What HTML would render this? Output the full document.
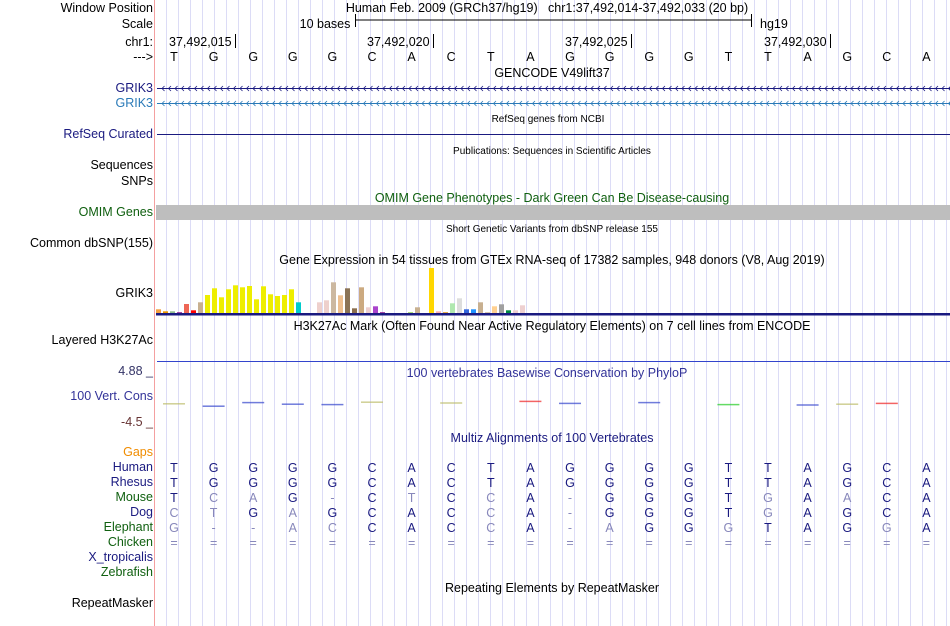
<!DOCTYPE html>
<html><head><meta charset="utf-8"><style>
body{margin:0;background:#fff;}
#root{position:relative;width:950px;height:626px;overflow:hidden;font-family:"Liberation Sans",sans-serif;font-size:12.5px;color:#000;}
.l{position:absolute;right:797px;white-space:nowrap;line-height:14px;}
.t{position:absolute;white-space:nowrap;line-height:14px;transform:translateX(-50%);}
.s{font-size:10px;}
</style></head><body>
<div id="root">
<svg id="svg" width="950" height="626" style="position:absolute;left:0;top:0"></svg>

<div class="l" style="top:1px">Window Position</div>
<div class="l" style="top:17px">Scale</div>
<div class="l" style="top:35px">chr1:</div>
<div class="l" style="top:50px">---&gt;</div>
<div class="l" style="top:81px;color:#1a1a80">GRIK3</div>
<div class="l" style="top:96px;color:#2a7ab8">GRIK3</div>
<div class="l" style="top:127px;color:#1a1a80">RefSeq Curated</div>
<div class="l" style="top:158px">Sequences</div>
<div class="l" style="top:174px">SNPs</div>
<div class="l" style="top:205px;color:#106010">OMIM Genes</div>
<div class="l" style="top:236px">Common dbSNP(155)</div>
<div class="l" style="top:286px">GRIK3</div>
<div class="l" style="top:333px">Layered H3K27Ac</div>
<div class="l" style="top:364px;color:#333366">4.88 _</div>
<div class="l" style="top:389px;color:#333399">100 Vert. Cons</div>
<div class="l" style="top:415px;color:#663333">-4.5 _</div>
<div class="l" style="top:445px;color:#f08c00">Gaps</div>
<div class="l" style="top:460px;color:#1a1a80">Human</div>
<div class="l" style="top:475px;color:#1a1a80">Rhesus</div>
<div class="l" style="top:490px;color:#106010">Mouse</div>
<div class="l" style="top:505px;color:#1a1a80">Dog</div>
<div class="l" style="top:520px;color:#106010">Elephant</div>
<div class="l" style="top:535px;color:#106010">Chicken</div>
<div class="l" style="top:550px;color:#1a1a80">X_tropicalis</div>
<div class="l" style="top:565px;color:#106010">Zebrafish</div>
<div class="l" style="top:596px">RepeatMasker</div>

<div class="t" style="left:547px;top:1px">Human Feb. 2009 (GRCh37/hg19) &nbsp; chr1:37,492,014-37,492,033 (20 bp)</div>
<div class="t" style="left:325px;top:17px">10 bases</div>
<div style="position:absolute;left:760px;top:17px;line-height:14px">hg19</div>
<div style="position:absolute;left:169px;top:35px;line-height:14px">37,492,015</div>
<div style="position:absolute;left:367px;top:35px;line-height:14px">37,492,020</div>
<div style="position:absolute;left:565px;top:35px;line-height:14px">37,492,025</div>
<div style="position:absolute;left:764px;top:35px;line-height:14px">37,492,030</div>
<div class="t" style="left:552px;top:66px">GENCODE V49lift37</div>
<div class="t s" style="left:548px;top:113px">RefSeq genes from NCBI</div>
<div class="t s" style="left:552px;top:145px">Publications: Sequences in Scientific Articles</div>
<div class="t" style="left:552px;top:191px;color:#106010">OMIM Gene Phenotypes - Dark Green Can Be Disease-causing</div>
<div class="t s" style="left:552px;top:223px">Short Genetic Variants from dbSNP release 155</div>
<div class="t" style="left:552px;top:253px">Gene Expression in 54 tissues from GTEx RNA-seq of 17382 samples, 948 donors (V8, Aug 2019)</div>
<div class="t" style="left:552px;top:319px">H3K27Ac Mark (Often Found Near Active Regulatory Elements) on 7 cell lines from ENCODE</div>
<div class="t" style="left:547px;top:366px;color:#333399">100 vertebrates Basewise Conservation by PhyloP</div>
<div class="t" style="left:552px;top:431px;color:#1a1a80">Multiz Alignments of 100 Vertebrates</div>
<div class="t" style="left:552px;top:581px">Repeating Elements by RepeatMasker</div>
<div id="bases"></div>
</div>
<script>
const bases=["T","G","G","G","G","C","A","C","T","A","G","G","G","G","T","T","A","G","C","A"];
const species=["Human","Rhesus","Mouse","Dog","Elephant","Chicken"];
const alnHuman="TGGGGCACTAGGGGTTAGCA".split("");
const alnRhesus="TGGGGCACTAGGGGTTAGCA".split("");
const alnMouse="TCAG-CTCCA-GGGTGAACA".split("");
const alnDog="CTGAGCACCA-GGGTGAGCA".split("");
const alnElephant="G--ACCACCA-AGGGTAGGA".split("");
const alnChicken="====================".split("");
const gtexValues=[3.7,1.7,1.7,0.7,9,2.7,10.7,18,24.7,15.7,23.7,27.7,25.7,27,13.7,26.7,18.7,17,18,23.7,10.7,0,0,10.7,12.7,30.7,17.7,24.7,4.7,25.7,5.7,6.7,0.7,0,0,0,0.7,5.7,0,45,1.7,0.7,9.7,14.7,3.7,3.7,10.7,0.7,6.7,8.7,2.7,2.7,7.7,0];
const gtexColors=["#f4a040","#ee9900","#8fbc8f","#800080","#ee6655","#ff0000","#c8b090","#eeee00","#eeee00","#eeee00","#eeee00","#eeee00","#eeee00","#eeee00","#eeee00","#eeee00","#eeee00","#eeee00","#eeee00","#eeee00","#00cccc","#eed0cc","#eed0cc","#eed0cc","#eed0cc","#ccb8a0","#eec090","#8b7355","#8b6e4e","#ccaa80","#eed0d0","#aa44cc","#800080","#ccc","#ccc","#ccc","#88cc44","#c8b090","#ccc","#ffd700","#ffb0b0","#dd8800","#b0e8b0","#dddddd","#3366dd","#1e90ff","#c8b090","#c8b090","#ffd090","#a0a0a0","#008844","#eed0d0","#eed0d0","#ccc"];
const consScores=[0.3,-0.3,0.6,0.2,0.1,0.7,0,0.5,0,0.9,0.4,0,0.6,0,0.1,0,0,0.2,0.4,0.6];
const consColors=["#bbbb66","#3344cc","#3344cc","#3344cc","#3344cc","#bbbb66","#fff","#bbbb66","#fff","#ee2222","#3344cc","#fff","#3344cc","#fff","#22cc22","#fff","#3344cc","#bbbb66","#ee2222","#fff"];

const NS="http://www.w3.org/2000/svg";
const svg=document.getElementById("svg");
function mk(tag,attrs,name,inter){const e=document.createElementNS(NS,tag);for(const k in attrs)e.setAttribute(k,attrs[k]);


svg.appendChild(e);return e;}
const x0=154.5,bw=39.6;
function baseX(i){return 174+i*bw;}
for(let x=166.5;x<950;x+=12){mk("line",{x1:x,y1:0,x2:x,y2:626,stroke:"#dcdcf6","stroke-width":1},"guide-line","false");}
mk("line",{x1:x0,y1:0,x2:x0,y2:626,stroke:"#f4a0a0","stroke-width":1},"label-divider","false");
mk("line",{x1:355,y1:20,x2:751,y2:20,stroke:"#000"},"scale-bar","false");
mk("line",{x1:355.5,y1:14,x2:355.5,y2:27,stroke:"#000"},"scale-bar-left","false");
mk("line",{x1:751.5,y1:14,x2:751.5,y2:27,stroke:"#000"},"scale-bar-right","false");
[235.5,433.5,631.5,830.5].forEach(x=>mk("line",{x1:x,y1:34,x2:x,y2:48,stroke:"#000"},"position-tick","false"));
const bd=document.getElementById("bases");
bases.forEach((b,i)=>{const d=document.createElement("div");d.className="t";d.style.left=baseX(i)+"px";d.style.top="50px";d.textContent=b;


bd.appendChild(d);});
function geneLine(y,color,name){mk("line",{x1:157,y1:y,x2:950,y2:y,stroke:color,"stroke-width":1},name,"true");
let p="";for(let x=162;x<950;x+=6.5){p+=`M${x+2.5},${y-2.5}L${x},${y}L${x+2.5},${y+2.5}`;}
mk("path",{d:p,stroke:color,fill:"none","stroke-width":0.8},name+"-arrows","false");}
geneLine(88.5,"#1a1a80","grik3-gene");
geneLine(103.5,"#2a7ab8","grik3-gene-alt");
mk("line",{x1:157,y1:134.5,x2:950,y2:134.5,stroke:"#1a1a80"},"refseq-line","true");
mk("rect",{x:156,y:205,width:794,height:15,fill:"#bebebe"},"omim-bar","true");
const gBase=313,gMax=45,gH=45;
function gy(v){return gBase-v/gMax*gH;}
gtexValues.forEach((v,i)=>{if(v<=0)return;const x=156+i*7;
mk("rect",{x:x,y:gy(v),width:5,height:gBase-gy(v),fill:gtexColors[i]},"gtex-bar-"+i,"true");});
mk("rect",{x:156,y:313,width:794,height:2.5,fill:"#1a1a80"},"gtex-baseline","false");
mk("line",{x1:157,y1:361.5,x2:950,y2:361.5,stroke:"#3344cc"},"h3k27ac-line","false");
function cy(v){return 405-v*4;}
consScores.forEach((v,i)=>{if(consColors[i]==="#fff")return;const x=baseX(i)-11;
mk("rect",{x:x,y:cy(v)-0.75,width:22,height:1.5,fill:consColors[i],opacity:0.7},"cons-mark-"+i,"false");});
const alns=[alnHuman,alnRhesus,alnMouse,alnDog,alnElephant,alnChicken];
alns.forEach((a,r)=>{a.forEach((c,i)=>{const t=document.createElementNS(NS,"text");
t.setAttribute("x",baseX(i));t.setAttribute("y",472+r*15);t.setAttribute("text-anchor","middle");
t.setAttribute("font-family","Liberation Sans, sans-serif");t.setAttribute("font-size","12.5");
t.setAttribute("fill",(r<2||c===alnHuman[i])?"#1a1a80":"#8888bb");t.textContent=c;


svg.appendChild(t);});});
</script>
</body></html>
